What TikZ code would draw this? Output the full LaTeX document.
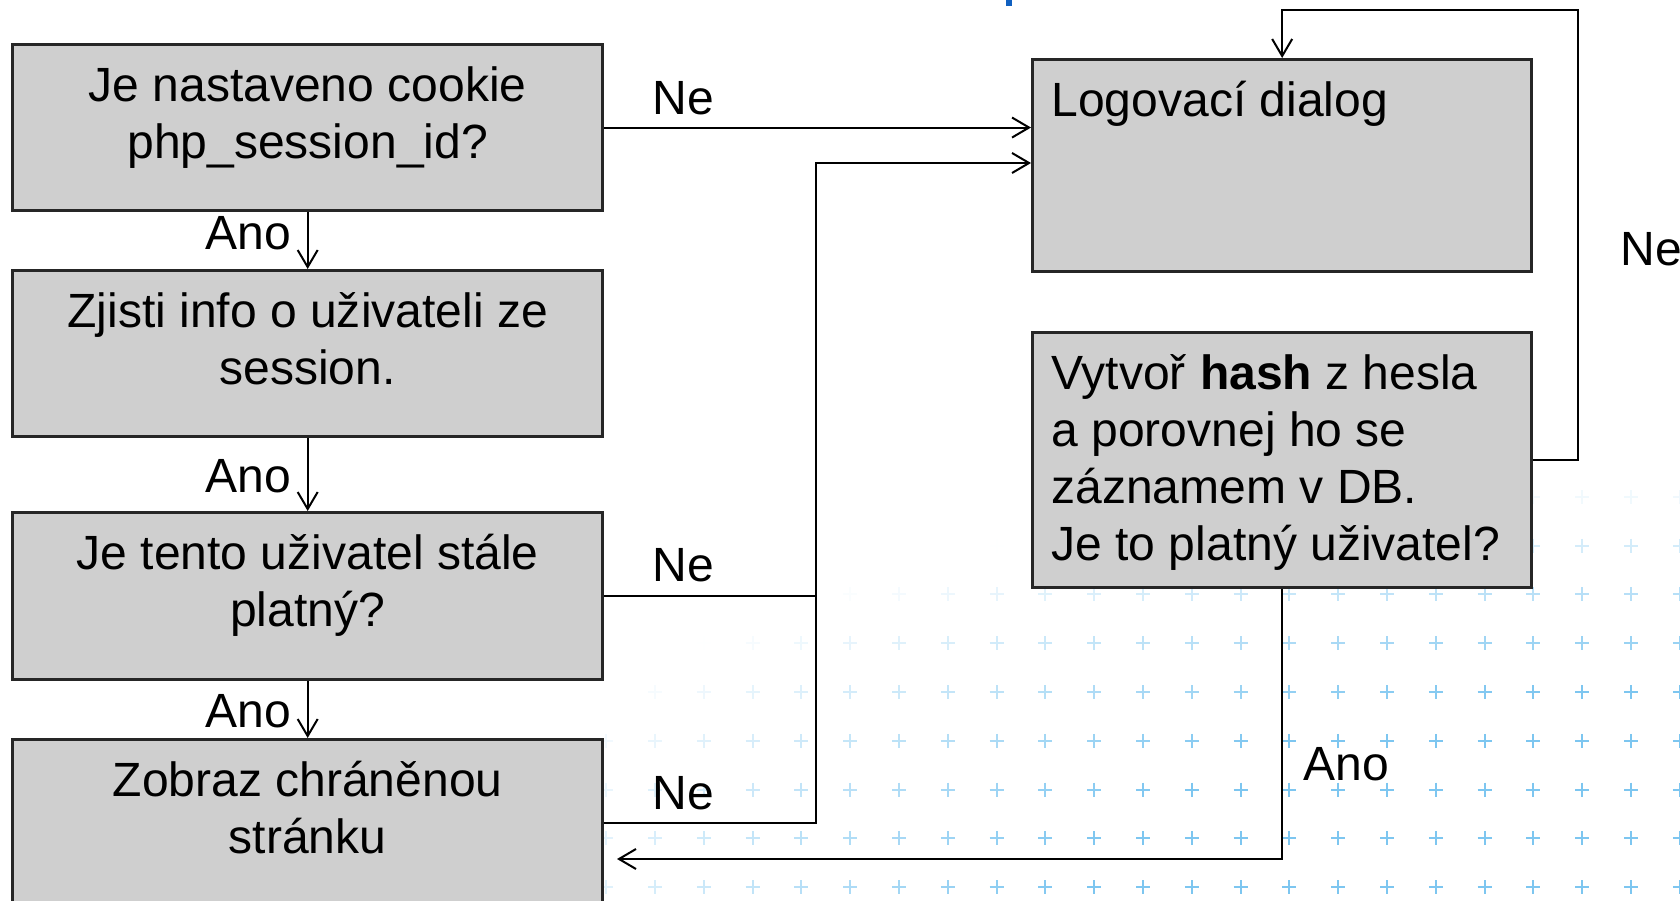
\documentclass[tikz,border=0pt]{standalone}
\usepackage{fontspec}
\setmainfont{Liberation Sans}
\usetikzlibrary{arrows.meta}
\definecolor{boxgray}{RGB}{207,207,207}
\definecolor{plusblue}{RGB}{125,198,240}
\definecolor{titleblue}{RGB}{16,96,192}
% text of a box: height, width, lines (top aligned)
\newcommand\boxtxt[4][\centering]{\parbox[c][#2][t]{#3}{#1\rule{0pt}{0.57cm}#4}}
\begin{document}
\begin{tikzpicture}[x=0.01cm,y=-0.01cm]
  \tikzset{box/.style={draw=black!85,line width=0.03cm,fill=boxgray,inner sep=0pt,
      anchor=north west,font=\fontsize{13.66pt}{16.2pt}\selectfont},
    conn/.style={line width=0.02cm},
    arr/.style={conn,-{Straight Barb[length=0.17cm,width=0.2cm]}},
    lbl/.style={inner sep=0pt,font=\fontsize{13.66pt}{16.2pt}\selectfont},
    plus/.style={plusblue,line width=0.02cm}
  }
  \useasboundingbox (0,0) rectangle (1680,901);
  \clip (0,0) rectangle (1680,901);
  % background pattern
  \foreach \i in {0,...,9}{
    \foreach \k in {-1,...,21}{
      \pgfmathsetmacro\px{1631-48.8*\k}
      \pgfmathsetmacro\py{448+48.8*\i}
      \pgfmathsetmacro\po{max(0,min(1,(430-veclen(0.35*(1680-\px),901-\py))/220))}
      \draw[plus,opacity=\po] (\px-7,\py) -- (\px+7,\py) (\px,\py-7) -- (\px,\py+7);
    }
  }
  \fill[titleblue] (1006,0) rectangle (1012,6);
  % left column
  \node[box] (q1) at (11,43) {\boxtxt{1.66cm}{5.9cm}{Je nastaveno cookie\\php\_session\_id?}};
  \node[box] (q2) at (11,269) {\boxtxt{1.66cm}{5.9cm}{Zjisti info o uživateli ze\\session.}};
  \node[box] (q3) at (11,511) {\boxtxt{1.67cm}{5.9cm}{Je tento uživatel stále\\platný?}};
  \node[box] (q4) at (11,738) {\boxtxt{1.66cm}{5.9cm}{Zobraz chráněnou\\stránku}};
  % right column
  \node[box,minimum width=4.99cm] (login) at (1031,58)
    {\boxtxt[\raggedright]{2.12cm}{4.61cm}{Logovací dialog}};
  \node[box,minimum width=4.99cm] (hash) at (1031,331)
    {\boxtxt[\raggedright]{2.55cm}{4.61cm}{Vytvoř \textbf{hash} z hesla\\a porovnej ho se\\záznamem v DB.\\Je to platný uživatel?}};
  \coordinate (jn) at (816,163);
  \coordinate (loop) at (1578,10);
  \coordinate (back) at (617,859);
  % connectors
  \draw[arr] (q1.south) -- (q2.north);
  \draw[arr] (q2.south) -- (q3.north);
  \draw[arr] (q3.south) -- (q4.north);
  \draw[arr] (q1.east) -- (q1.east -| login.west);
  \draw[conn] (q3.east) -- (q3.east -| jn);
  \draw[arr] (q4.east) -| (jn) -- (jn -| login.west);
  \draw[arr] (hash.east) -| (loop) -| (login.north);
  \draw[arr] (hash.south) |- (back);
  % labels
  \node[lbl,anchor=base east] (a1) at (292,250) {Ano};
  \node[lbl,anchor=base east] (a2) at (292,493) {Ano};
  \node[lbl,anchor=base east] (a3) at (292,727) {Ano};
  \node[lbl,anchor=base west] (n1) at (652,115) {Ne};
  \node[lbl,anchor=base west] (n2) at (652,582) {Ne};
  \node[lbl,anchor=base west] (n3) at (652,809) {Ne};
  \node[lbl,anchor=base west] (n4) at (1620,266) {Ne};
  \node[lbl,anchor=base west] (a4) at (1303,780) {Ano};
\end{tikzpicture}
\end{document}
